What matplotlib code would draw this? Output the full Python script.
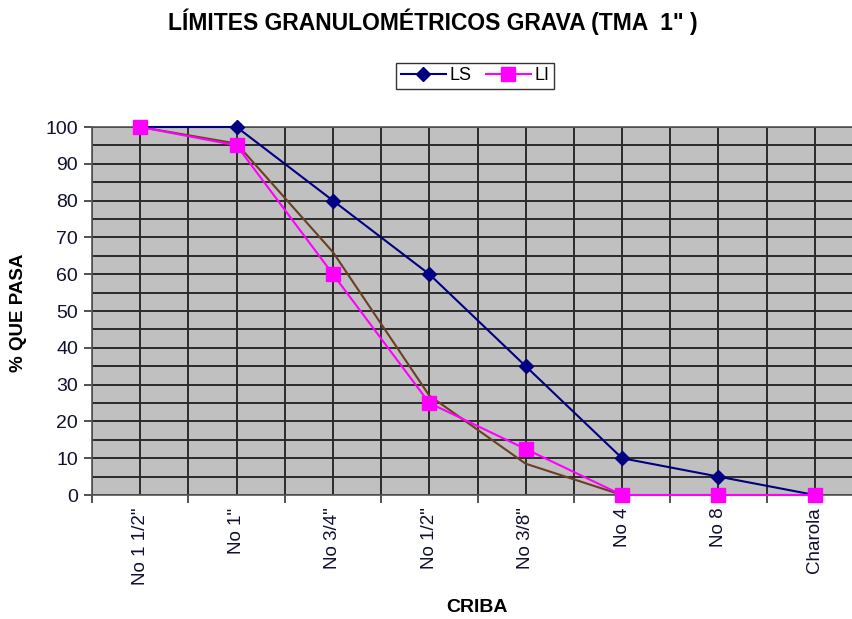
import matplotlib
matplotlib.use("Agg")
import matplotlib.pyplot as plt
from matplotlib.ticker import MultipleLocator, FixedLocator

plt.rcParams['font.family'] = ['Liberation Sans', 'DejaVu Sans']

categories = ['No 1 1/2"', 'No 1"', 'No 3/4"', 'No 1/2"', 'No 3/8"', 'No 4', 'No 8', 'Charola']
ls_values = [100, 100, 80, 60, 35, 10, 5, 0]
li_values = [100, 95, 60, 25, 12.5, 0, 0, 0]
muestra_values = [100, 95.5, 66, 27, 8.5, 0, 0, 0]

fig = plt.figure(figsize=(8.52, 6.19), dpi=100)
ax = fig.add_axes([92/852, 1 - 495/619, (863-92)/852, (495-127)/619])
ax.set_facecolor('#c0c0c0')

x = list(range(len(categories)))
ax.set_xlim(-0.5, len(categories) - 0.5)
ax.set_ylim(0, 100)

ax.yaxis.set_major_locator(MultipleLocator(10))
ax.yaxis.set_minor_locator(MultipleLocator(5))
ax.set_xticks(x)
ax.set_xticklabels(categories, rotation=90, fontsize=13.5, color='#101030')
ax.xaxis.set_minor_locator(FixedLocator([i - 0.5 for i in range(len(categories) + 1)]))
ax.grid(True, which='major', axis='both', color='#2a2a2a', linewidth=1.4, zorder=1)
ax.grid(True, which='minor', axis='both', color='#2a2a2a', linewidth=1.4, zorder=1)
ax.set_axisbelow(True)

ax.tick_params(axis='x', which='major', length=0, pad=9)
ax.tick_params(axis='x', which='minor', length=6, width=1.2, color='#333333', direction='out')
ax.tick_params(axis='y', which='major', length=6, width=1.2, color='#333333', direction='out',
               labelsize=14, labelcolor='#101030', pad=4)
ax.tick_params(axis='y', which='minor', length=0)

for s in ['left', 'bottom', 'top', 'right']:
    ax.spines[s].set_color('#555555')
    ax.spines[s].set_linewidth(1.2)

ax.plot(x, muestra_values, color='#6b3f22', linewidth=1.5, zorder=3)
ax.plot(x, ls_values, color='#000080', linewidth=1.5, marker='D', markersize=7.5,
        markerfacecolor='#000080', markeredgecolor='#000080', label='LS', zorder=4, clip_on=False)
ax.plot(x, li_values, color='#ff00ff', linewidth=1.5, marker='s', markersize=10,
        markerfacecolor='#ff00ff', markeredgecolor='#ff00ff', label='LI', zorder=5, clip_on=False)

fig.text(477/852, 1 - 607/619, 'CRIBA', ha='center', va='center', fontsize=14, fontweight='bold')
fig.text(19/852, 1 - 313/619, '% QUE PASA', ha='center', va='center', rotation=90,
         fontsize=13.5, fontweight='bold')

fig.text(433/852, 1 - 22/619, 'LÍMITES GRANULOMÉTRICOS GRAVA (TMA  1" )', ha='center', va='center',
         fontsize=16.5, fontweight='bold')

leg = fig.legend(loc='center', bbox_to_anchor=(475/852, 1 - 76/619), ncol=2, frameon=True,
                 fancybox=False, edgecolor='black', fontsize=13, handlelength=2.5,
                 columnspacing=0.8, handletextpad=0.2, borderpad=0.25)
leg.get_frame().set_linewidth(1.0)

fig.savefig('out.png', dpi=100)
